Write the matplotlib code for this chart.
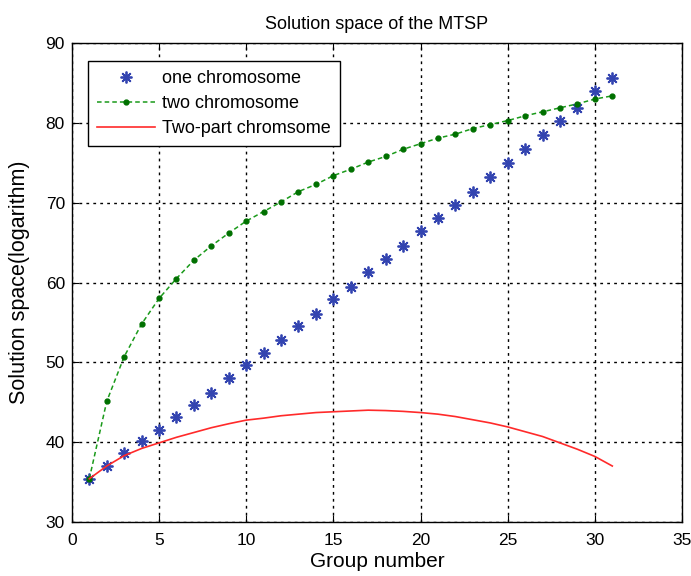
import matplotlib
matplotlib.use("Agg")
import matplotlib.pyplot as plt

plt.rcParams["font.family"] = ["Liberation Sans", "DejaVu Sans"]

# --- data ---
group = list(range(1, 32))

one_chrom = [35.4, 37.0, 38.6, 40.1, 41.5, 43.2, 44.7, 46.2, 48.0, 49.6,
             51.2, 52.8, 54.5, 56.1, 57.9, 59.5, 61.3, 62.9, 64.6, 66.4,
             68.1, 69.7, 71.4, 73.2, 75.0, 76.8, 78.5, 80.3, 81.9, 84.0, 85.7]

two_chrom = [35.4, 45.1, 50.7, 54.8, 58.0, 60.5, 62.8, 64.6, 66.2, 67.7,
             68.9, 70.1, 71.4, 72.3, 73.4, 74.2, 75.1, 75.8, 76.7, 77.4,
             78.1, 78.6, 79.3, 79.8, 80.3, 80.9, 81.4, 81.9, 82.4, 83.0, 83.4]

two_part = [35.4, 37.0, 38.3, 39.2, 39.9, 40.6, 41.2, 41.8, 42.3, 42.75,
            43.0, 43.3, 43.5, 43.7, 43.8, 43.9, 44.0, 43.95, 43.85, 43.7,
            43.5, 43.2, 42.8, 42.4, 41.9, 41.3, 40.7, 39.9, 39.1, 38.2, 37.0]

fig = plt.figure(figsize=(6.91, 5.76), dpi=100)
ax = fig.add_axes([0.104, 0.094, 0.883, 0.831])

# matlab-like asterisk: 8 spokes
ax.plot(group, one_chrom, linestyle="none", marker=(8, 2, 0), color="#3344b0",
        markersize=8.5, markeredgewidth=1.3, label="one chromosome")
ax.plot(group, two_chrom, linestyle=(0, (3, 2)), marker=".", color="#1a9a1a",
        markerfacecolor="#007000", markeredgecolor="#007000",
        markersize=7, linewidth=1.1, label="two chromosome")
ax.plot(group, two_part, "-", color="#ff2a2a", linewidth=1.2, label="Two-part chromsome")

ax.set_xlim(0, 35)
ax.set_ylim(30, 90)
ax.set_xticks(range(0, 36, 5))
ax.set_yticks(range(30, 91, 10))
ax.grid(True, color="black", linestyle=(0, (2, 3)), linewidth=1)
ax.tick_params(direction="in", top=True, right=True, labelsize=12.5, length=5)
ax.tick_params(axis="x", pad=8)
ax.tick_params(axis="y", pad=5)
for s in ax.spines.values():
    s.set_linewidth(1)

ax.set_title("Solution space of the MTSP", fontsize=13, pad=10)
ax.set_xlabel("Group number", fontsize=15, labelpad=3)
ax.set_ylabel("Solution space(logarithm)", fontsize=15.5, labelpad=11)

leg = ax.legend(loc="upper left", bbox_to_anchor=(0.026, 0.963), borderaxespad=0,
                fancybox=False, edgecolor="black", framealpha=1, fontsize=13,
                handlelength=3.2, handletextpad=0.4, borderpad=0.5,
                labelspacing=0.45)
leg.get_frame().set_linewidth(1)

fig.savefig("out.png", dpi=100)
plt.close(fig)
